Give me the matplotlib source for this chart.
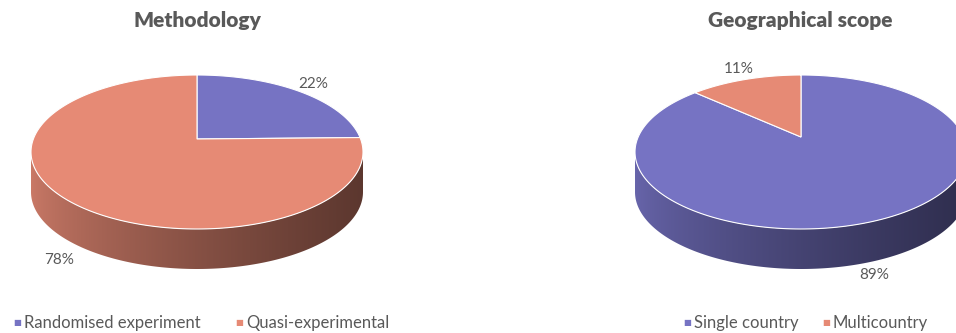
import numpy as np
import matplotlib
matplotlib.use("Agg")
import matplotlib.pyplot as plt
from matplotlib.patches import Polygon

plt.rcParams['font.family'] = ['Lato', 'DejaVu Sans']

# data
method_labels = ["Randomised experiment", "Quasi-experimental"]
method_share = [22, 78]
scope_labels = ["Single country", "Multicountry"]
scope_share = [89, 11]

purple = "#7673C3"
salmon = "#E68A75"
text_grey = "#595959"


def ellipse_pt(cx, cy, a, b, ang):
    # ang in degrees, clockwise from 12 o'clock
    t = np.radians(ang)
    return cx + a * np.sin(t), cy - b * np.cos(t)


def pie3d(ax, values, colors, cx, cy, a, b, depth, vy):
    total = float(sum(values))
    angles = np.cumsum([0] + [v / total * 360 for v in values])

    # front side, shaded left to right
    for i, col in enumerate(colors):
        lo = max(angles[i], 90)
        hi = min(angles[i + 1], 270)
        if hi <= lo:
            continue
        ts = np.linspace(lo, hi, 200)
        xs, ys = ellipse_pt(cx, cy, a, b, ts)
        verts = list(zip(xs, ys)) + list(zip(xs[::-1], ys[::-1] + depth))
        poly = Polygon(verts, closed=True, facecolor="none", edgecolor="none")
        ax.add_patch(poly)
        t = np.linspace(0, 1, 400)
        fac = 0.88 - 0.48 * t ** 0.7
        rgb = np.array(matplotlib.colors.to_rgb(col))
        img = (fac[:, None] * rgb[None, :])[None, :, :]
        im = ax.imshow(img, extent=(cx - a, cx + a, cy + b + depth + 2, cy - 2),
                       aspect="auto", interpolation="bilinear", zorder=1)
        im.set_clip_path(poly)

    # top face
    for i, col in enumerate(colors):
        ts = np.linspace(angles[i], angles[i + 1], 200)
        xs, ys = ellipse_pt(cx, cy, a, b, ts)
        verts = [(cx, vy)] + list(zip(xs, ys))
        ax.add_patch(Polygon(verts, closed=True, facecolor=col, edgecolor="white",
                             linewidth=0.8, zorder=2))

    # percent labels
    for i, v in enumerate(values):
        mid = (angles[i] + angles[i + 1]) / 2
        front = np.cos(np.radians(mid)) < 0
        fx = 1.3 if front else 1.1
        lx, ly = ellipse_pt(cx, cy, a * fx, b * 1.15, mid)
        if front:
            ly += depth
        ax.text(lx, ly, f"{v}%", ha="center", va="center", fontsize=11,
                color=text_grey, zorder=3)


def legend_row(ax, labels, colors, x0, gap, y):
    x = x0
    for lab, col in zip(labels, colors):
        ax.text(x, y, "\u25A0", ha="left", va="center", fontsize=6, color=col,
                family="DejaVu Sans")
        ax.text(x + 11, y, lab, ha="left", va="center", fontsize=12,
                color=text_grey)
        x += gap


fig = plt.figure(figsize=(9.56, 3.33), dpi=100)
ax = fig.add_axes([0, 0, 1, 1])
ax.set_xlim(0, 956)
ax.set_ylim(333, 0)
ax.axis("off")

pie3d(ax, method_share, [purple, salmon], 197, 152, 166, 77, 40, 139)
pie3d(ax, scope_share, [purple, salmon], 801, 152, 166, 77, 40, 137)

ax.text(197, 20, "Methodology", ha="center", va="center", fontsize=15,
        fontweight="heavy", color=text_grey)
ax.text(800, 20, "Geographical scope", ha="center", va="center", fontsize=15,
        fontweight="heavy", color=text_grey)

legend_row(ax, method_labels, [purple, salmon], 13, 222, 323)
legend_row(ax, scope_labels, [purple, salmon], 683, 139, 323)

fig.savefig("out.png", dpi=100)
